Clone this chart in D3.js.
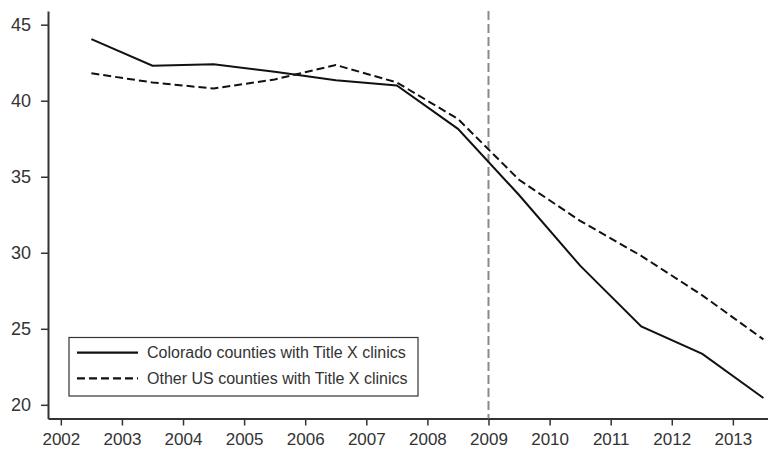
<!DOCTYPE html>
<html>
<head>
<meta charset="utf-8">
<script src="https://cdn.jsdelivr.net/npm/d3@7"></script>
<style>
  html, body { margin: 0; padding: 0; background: #fff; }
  svg { display: block; font-family: "Liberation Sans", Arial, Helvetica, sans-serif; }
</style>
</head>
<body>
<svg id="chart" width="768" height="449"></svg>
<script>
// Calendar years on the x axis; each rate is plotted at mid-year
const years = [2002, 2003, 2004, 2005, 2006, 2007, 2008, 2009, 2010, 2011, 2012, 2013];
const coloradoRates = [44.05, 42.3, 42.4, 41.9, 41.35, 41.0, 38.15, 33.8, 29.15, 25.15, 23.35, 20.45];
const otherUsRates  = [41.8, 41.2, 40.8, 41.4, 42.35, 41.2, 38.8, 34.8, 32.1, 29.8, 27.2, 24.3];
const yTicks = [20, 25, 30, 35, 40, 45];
const xTicks = years;
const policyYear = 2009;
const seriesNames = ["Colorado counties with Title X clinics", "Other US counties with Title X clinics"];

const svg = d3.select("#chart");
const ink = "#333";

const x = d3.scaleLinear().domain([2001.79, 2013.575]).range([48, 768]);
const y = d3.scaleLinear().domain([19.1, 45.9]).range([418.5, 11]);

// axes
const yAxis = svg.append("g")
  .attr("transform", "translate(48,0)")
  .call(d3.axisLeft(y).tickValues(yTicks).tickSize(7).tickSizeOuter(0).tickPadding(10));
const xAxis = svg.append("g")
  .attr("transform", "translate(0,418.5)")
  .call(d3.axisBottom(x).tickValues(xTicks).tickFormat(d3.format("d")).tickSize(7).tickSizeOuter(0).tickPadding(7.5));

[yAxis, xAxis].forEach(g => {
  g.select(".domain").attr("stroke", ink).attr("stroke-width", 2);
  g.selectAll(".tick line").attr("stroke", ink).attr("stroke-width", 1.5);
  g.selectAll(".tick text").attr("fill", ink)
    .attr("font-family", "'Liberation Sans', Arial, Helvetica, sans-serif");
});
yAxis.selectAll(".tick text").attr("font-size", 18);
xAxis.selectAll(".tick text").attr("font-size", 17);

// policy start marker
svg.append("line")
  .attr("x1", x(policyYear)).attr("x2", x(policyYear))
  .attr("y1", y.range()[1]).attr("y2", y.range()[0])
  .attr("stroke", "#8a8a8a").attr("stroke-width", 2)
  .attr("stroke-dasharray", "9,4");

const line = d3.line()
  .x((d, i) => x(years[i] + 0.5))
  .y(d => y(d));

svg.append("path").datum(coloradoRates)
  .attr("d", line).attr("fill", "none")
  .attr("stroke", "#111").attr("stroke-width", 2);

svg.append("path").datum(otherUsRates)
  .attr("d", line).attr("fill", "none")
  .attr("stroke", "#111").attr("stroke-width", 2)
  .attr("stroke-dasharray", "8,4");

// legend
const legend = svg.append("g");
legend.append("rect")
  .attr("x", 69).attr("y", 337.5).attr("width", 349).attr("height", 58.5)
  .attr("fill", "#fff").attr("stroke", ink).attr("stroke-width", 1.2);

const dashes = [null, "8,4"];
seriesNames.forEach((name, i) => {
  const ly = 352.7 + i * 25.6;
  legend.append("line")
    .attr("x1", 77).attr("x2", 138).attr("y1", ly).attr("y2", ly)
    .attr("stroke", "#111").attr("stroke-width", 2.2)
    .attr("stroke-dasharray", dashes[i]);
  legend.append("text")
    .attr("x", 147).attr("y", ly).attr("dy", "0.35em")
    .attr("fill", ink).attr("font-size", 16)
    .text(name);
});
</script>
</body>
</html>
